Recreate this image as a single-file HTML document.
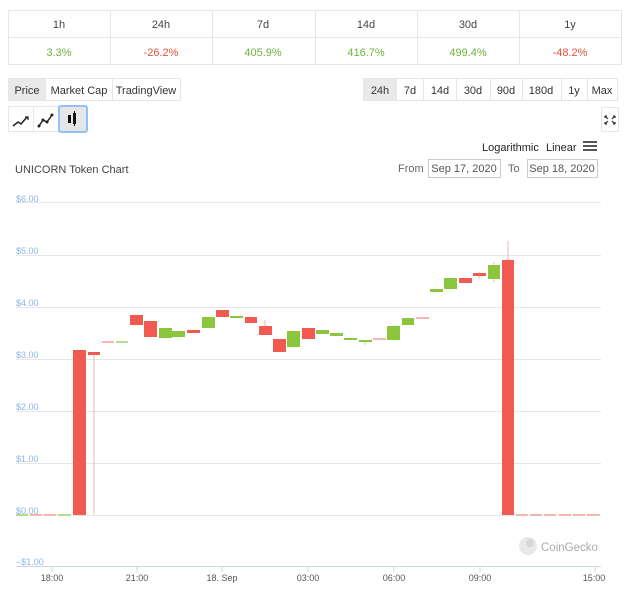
<!DOCTYPE html>
<html><head><meta charset="utf-8"><style>
*{margin:0;padding:0;box-sizing:border-box}
body{width:624px;height:594px;background:#fff;font-family:"Liberation Sans",sans-serif;position:relative;overflow:hidden;color:#333}
.a{position:absolute}
.c{position:absolute;display:flex;align-items:center;justify-content:center;font-size:11px;color:#444}
</style></head><body>
<svg class="a" style="left:0;top:0" width="624" height="594" xmlns="http://www.w3.org/2000/svg" font-family="Liberation Sans, sans-serif">
<!-- table -->
<rect x="8.5" y="10.5" width="613" height="54" fill="#fff" stroke="#e3e6ea"/>
<line x1="8" y1="37.5" x2="622" y2="37.5" stroke="#e3e6ea"/>
<g stroke="#e3e6ea"><line x1="110.5" y1="10" x2="110.5" y2="65"/><line x1="212.5" y1="10" x2="212.5" y2="65"/><line x1="315.5" y1="10" x2="315.5" y2="65"/><line x1="417.5" y1="10" x2="417.5" y2="65"/><line x1="519.5" y1="10" x2="519.5" y2="65"/></g>
<g font-size="11" fill="#444" text-anchor="middle"><text x="59" y="28">1h</text><text x="161" y="28">24h</text><text x="263" y="28">7d</text><text x="366" y="28">14d</text><text x="468" y="28">30d</text><text x="570" y="28">1y</text></g>
<g font-size="11" text-anchor="middle"><text x="59" y="56" fill="#6cb33f">3.3%</text><text x="161" y="56" fill="#e15241">-26.2%</text><text x="263" y="56" fill="#6cb33f">405.9%</text><text x="366" y="56" fill="#6cb33f">416.7%</text><text x="468" y="56" fill="#6cb33f">499.4%</text><text x="570" y="56" fill="#e15241">-48.2%</text></g>
<!-- button groups -->
<rect x="8.5" y="78.5" width="172" height="22" fill="#fff" stroke="#e3e6ea"/>
<rect x="9" y="79" width="36" height="21" fill="#e9e9e9"/>
<line x1="45.5" y1="78" x2="45.5" y2="101" stroke="#e3e6ea"/><line x1="112.5" y1="78" x2="112.5" y2="101" stroke="#e3e6ea"/>
<g font-size="11" fill="#333" text-anchor="middle"><text x="27" y="94">Price</text><text x="79" y="94">Market Cap</text><text x="146" y="94">TradingView</text></g>
<rect x="363.5" y="78.5" width="254" height="22" fill="#fff" stroke="#e3e6ea"/>
<rect x="364" y="79" width="32" height="21" fill="#e9e9e9"/>
<g stroke="#e3e6ea"><line x1="396.5" y1="78" x2="396.5" y2="101"/><line x1="423.5" y1="78" x2="423.5" y2="101"/><line x1="456.5" y1="78" x2="456.5" y2="101"/><line x1="490.5" y1="78" x2="490.5" y2="101"/><line x1="522.5" y1="78" x2="522.5" y2="101"/><line x1="561.5" y1="78" x2="561.5" y2="101"/><line x1="587.5" y1="78" x2="587.5" y2="101"/></g>
<g font-size="11" fill="#333" text-anchor="middle"><text x="380" y="94">24h</text><text x="410" y="94">7d</text><text x="440" y="94">14d</text><text x="473" y="94">30d</text><text x="506" y="94">90d</text><text x="541" y="94">180d</text><text x="574" y="94">1y</text><text x="602" y="94">Max</text></g>
<!-- chart type icons -->
<rect x="8.5" y="106.5" width="78" height="25" fill="#fff" stroke="#e3e6ea"/>
<line x1="33.5" y1="106" x2="33.5" y2="132" stroke="#e3e6ea"/>
<rect x="59" y="106" width="28" height="26" rx="2" fill="#e6e6e6" stroke="#8ec1f5" stroke-width="2"/>
<polyline points="13,126 18,122 21,124 27,117" fill="none" stroke="#222" stroke-width="1.5"/><polyline points="25,117 28,117 28,120" fill="none" stroke="#222" stroke-width="1.3"/>
<polyline points="39,126 43,120 47,122 52,115" fill="none" stroke="#222" stroke-width="1.5"/>
<g fill="#222"><circle cx="39" cy="126" r="1.5"/><circle cx="43" cy="120" r="1.5"/><circle cx="47" cy="122" r="1.5"/><circle cx="52" cy="115" r="1.5"/></g>
<rect x="68" y="115" width="3" height="8" fill="#111"/><rect x="73" y="113" width="3" height="11" fill="#111"/><line x1="74.5" y1="111" x2="74.5" y2="126" stroke="#111"/>
<rect x="601.5" y="107.5" width="17" height="24" fill="#fff" stroke="#e3e6ea"/>
<g stroke="#333" stroke-width="1.2" fill="none"><path d="M605,116 l3,3 M605,116 h2 M605,116 v2 M615,116 l-3,3 M615,116 h-2 M615,116 v2 M605,124 l3,-3 M605,124 h2 M605,124 v-2 M615,124 l-3,-3 M615,124 h-2 M615,124 v-2"/></g>
<!-- header -->
<g font-size="11" fill="#222"><text x="482" y="151">Logarithmic</text><text x="546" y="151">Linear</text></g>
<g fill="#555"><rect x="583" y="141" width="14" height="2"/><rect x="583" y="145" width="14" height="2"/><rect x="583" y="149" width="14" height="2"/></g>
<text x="15" y="173" font-size="11" fill="#444">UNICORN Token Chart</text>
<text x="398" y="172" font-size="11" fill="#666">From</text>
<rect x="428.5" y="159.5" width="72" height="18" fill="#fff" stroke="#ccc"/>
<text x="464" y="172" font-size="11" fill="#555" text-anchor="middle">Sep 17, 2020</text>
<text x="508" y="172" font-size="11" fill="#666">To</text>
<rect x="527.5" y="159.5" width="70" height="18" fill="#fff" stroke="#ccc"/>
<text x="562" y="172" font-size="11" fill="#555" text-anchor="middle">Sep 18, 2020</text>
<!-- grid -->
<g stroke="#e6e6e6"><line x1="16" y1="202.5" x2="601" y2="202.5"/><line x1="16" y1="255.5" x2="601" y2="255.5"/><line x1="16" y1="307.5" x2="601" y2="307.5"/><line x1="16" y1="359.5" x2="601" y2="359.5"/><line x1="16" y1="411.5" x2="601" y2="411.5"/><line x1="16" y1="463.5" x2="601" y2="463.5"/><line x1="16" y1="515.5" x2="601" y2="515.5"/></g>
<line x1="16" y1="566.5" x2="601" y2="566.5" stroke="#ccd6eb"/>
<g stroke="#ccd6eb"><line x1="52" y1="567" x2="52" y2="572"/><line x1="137" y1="567" x2="137" y2="572"/><line x1="222" y1="567" x2="222" y2="572"/><line x1="308" y1="567" x2="308" y2="572"/><line x1="394" y1="567" x2="394" y2="572"/><line x1="480" y1="567" x2="480" y2="572"/><line x1="595" y1="567" x2="595" y2="572"/></g>
<g font-size="9" fill="#8db3e8"><text x="16" y="202">$6.00</text><text x="16" y="254">$5.00</text><text x="16" y="306">$4.00</text><text x="16" y="358">$3.00</text><text x="16" y="410">$2.00</text><text x="16" y="462">$1.00</text><text x="16" y="514">$0.00</text><text x="16" y="565">−$1.00</text></g>
<g font-size="9" fill="#555" text-anchor="middle"><text x="52" y="581">18:00</text><text x="137" y="581">21:00</text><text x="222" y="581">18. Sep</text><text x="308" y="581">03:00</text><text x="394" y="581">06:00</text><text x="480" y="581">09:00</text><text x="594" y="581">15:00</text></g>
<!-- flat candles at zero -->
<g><rect x="16" y="514" width="12" height="2" fill="#b8dc8f"/><rect x="30" y="514" width="12" height="2" fill="#f5b5b0"/><rect x="44" y="514" width="12" height="2" fill="#f5b5b0"/><rect x="58" y="514" width="13" height="2" fill="#b8dc8f"/>
<rect x="516" y="514" width="12" height="2" fill="#f5b5b0"/><rect x="530" y="514" width="12" height="2" fill="#f5b5b0"/><rect x="544" y="514" width="12" height="2" fill="#f5b5b0"/><rect x="559" y="514" width="12" height="2" fill="#f5b5b0"/><rect x="573" y="514" width="12" height="2" fill="#f5b5b0"/><rect x="587" y="514" width="13" height="2" fill="#f5b5b0"/></g>
<!-- wicks -->
<g stroke="#f5b5b0"><line x1="94" y1="352" x2="94" y2="515"/><line x1="508" y1="241" x2="508" y2="260"/><line x1="265" y1="320" x2="265" y2="326"/><line x1="365" y1="340" x2="365" y2="345"/><line x1="479" y1="272" x2="479" y2="279"/><line x1="494" y1="262" x2="494" y2="282"/></g>
<!-- candles -->
<g fill="#f05a50">
<rect x="73" y="350" width="13" height="165"/>
<rect x="88" y="352" width="12" height="3"/>
<rect x="130" y="315" width="13" height="10"/>
<rect x="144" y="321" width="13" height="16"/>
<rect x="187" y="330" width="13" height="3"/>
<rect x="216" y="310" width="13" height="7"/>
<rect x="245" y="317" width="12" height="6"/>
<rect x="259" y="326" width="13" height="9"/>
<rect x="273" y="339" width="13" height="13"/>
<rect x="302" y="328" width="13" height="11"/>
<rect x="459" y="278" width="13" height="5"/>
<rect x="473" y="273" width="13" height="3"/>
<rect x="502" y="260" width="12" height="255"/>
</g>
<g fill="#f5b5b0"><rect x="102" y="341" width="12" height="2"/><rect x="373" y="338" width="13" height="2"/><rect x="416" y="317" width="13" height="2"/></g>
<g fill="#8cc63f">
<rect x="116" y="341" width="12" height="2" fill="#b8dc8f"/>
<rect x="159" y="328" width="13" height="10"/>
<rect x="172" y="331" width="13" height="6"/>
<rect x="202" y="317" width="13" height="11"/>
<rect x="230" y="316" width="13" height="2"/>
<rect x="287" y="331" width="13" height="16"/>
<rect x="316" y="330" width="13" height="4"/>
<rect x="330" y="333" width="13" height="3"/>
<rect x="344" y="338" width="13" height="2"/>
<rect x="359" y="340" width="13" height="2"/>
<rect x="387" y="326" width="13" height="14"/>
<rect x="402" y="318" width="12" height="7"/>
<rect x="430" y="289" width="13" height="3"/>
<rect x="444" y="278" width="13" height="11"/>
<rect x="488" y="265" width="12" height="14"/>
</g>
<!-- coingecko -->
<circle cx="528" cy="546" r="9" fill="#e8e8e8"/><circle cx="530" cy="543" r="4" fill="#d6d6d6"/>
<text x="541" y="551" font-size="11.5" fill="#aaa">CoinGecko</text>
</svg>
</body></html>
